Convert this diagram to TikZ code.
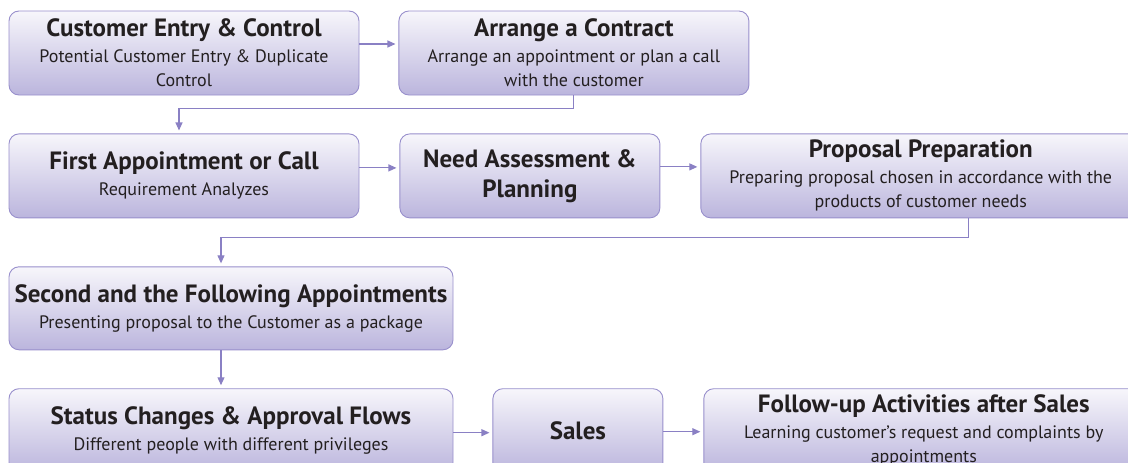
\documentclass[tikz,border=0pt]{standalone}
\usepackage{fontspec}
\setmainfont{PT Sans}
\usetikzlibrary{
        arrows.meta,
        positioning
    }
\definecolor{boxline}{RGB}{152,143,204}
\definecolor{boxtop}{RGB}{247,246,251}
\definecolor{boxbot}{RGB}{187,181,221}
\definecolor{flowline}{RGB}{138,128,196}
\definecolor{ink}{RGB}{35,31,32}
\tikzset{>={Triangle[length=8pt,width=7pt]},node distance=40pt}
\tikzset{
    stage/.style={draw=boxline, line width=0.9pt, rounded corners=10pt,
        top color=boxtop, bottom color=boxbot, minimum height=84pt,
        inner sep=0pt, align=center, text=ink,
        font=\fontsize{18}{24}\selectfont},
    flow/.style={->, draw=flowline, line width=1.1pt, shorten >=3pt}
}
\newcommand{\stagetitle}[1]{{\fontsize{25}{30}\selectfont\bfseries #1}}

\begin{document}
\begin{tikzpicture}[x=1pt,y=1pt]
            \useasboundingbox (0,0) rectangle (1128,-463);
            \clip (0,0) rectangle (1128,-463);
            % first row
            \node[stage, minimum width=350pt] (entry) at (184,-53)
                {\stagetitle{Customer Entry \& Control}\\[2pt]
                 Potential Customer Entry \& Duplicate\\ Control};
            \node[stage, minimum width=350pt] (contract) [right=39pt of entry]
                {\stagetitle{Arrange a Contract}\\[2pt]
                 Arrange an appointment or plan a call\\ with the customer};
            % second row
            \node[stage, minimum width=350pt] (first) [below=38pt of entry]
                {\stagetitle{First Appointment or Call}\\[2pt]
                 Requirement Analyzes};
            \node[stage, minimum width=260pt] (need) [right=of first]
                {\stagetitle{Need Assessment \&}\\[6pt] \stagetitle{Planning}};
            \node[stage, minimum width=440pt] (proposal) [right=of need]
                {\stagetitle{Proposal Preparation}\\[2pt]
                 Preparing proposal chosen in accordance with the\\
                 products of customer needs};
            % third and fourth row
            \node[stage, minimum width=444pt, minimum height=83pt] (second)
                [below right=48pt and 0pt of first.south west]
                {\stagetitle{Second and the Following Appointments}\\[2pt]
                 Presenting proposal to the Customer as a package};
            \node[stage, minimum width=444pt] (status) [below=38pt of second]
                {\stagetitle{Status Changes \& Approval Flows}\\[2pt]
                 Different people with different privileges};
            \node[stage, minimum width=170pt] (sales) [right=39pt of status]
                {\stagetitle{Sales}};
            \node[stage, minimum width=440pt] (followup) [right=of sales]
                {\stagetitle{Follow-up Activities after Sales}\\[2pt]
                 Learning customer's request and complaints by\\ appointments};
            % connectors
            \draw[flow] ([yshift=9pt]entry.east) -- ([yshift=9pt]contract.west);
            \draw[flow] (contract.south) -- ++(0,-13) -| ([xshift=-5pt]first.north);
            \draw[flow] ([yshift=8pt]first.east) -- ([yshift=8pt]need.west);
            \draw[flow] ([yshift=9pt]need.east) -- ([yshift=9pt]proposal.west);
            \draw[flow] ([xshift=48pt]proposal.south) -- ++(0,-19) -| ([xshift=-10pt]second.north);
            \draw[flow] ([xshift=-10pt]second.south) -- ([xshift=-10pt]status.north);
            \draw[flow] ([yshift=-2pt]status.east) -- ([yshift=-2pt]sales.west);
            \draw[flow] ([yshift=-1pt]sales.east) -- ([yshift=-1pt]followup.west);
        \end{tikzpicture}
\end{document}
